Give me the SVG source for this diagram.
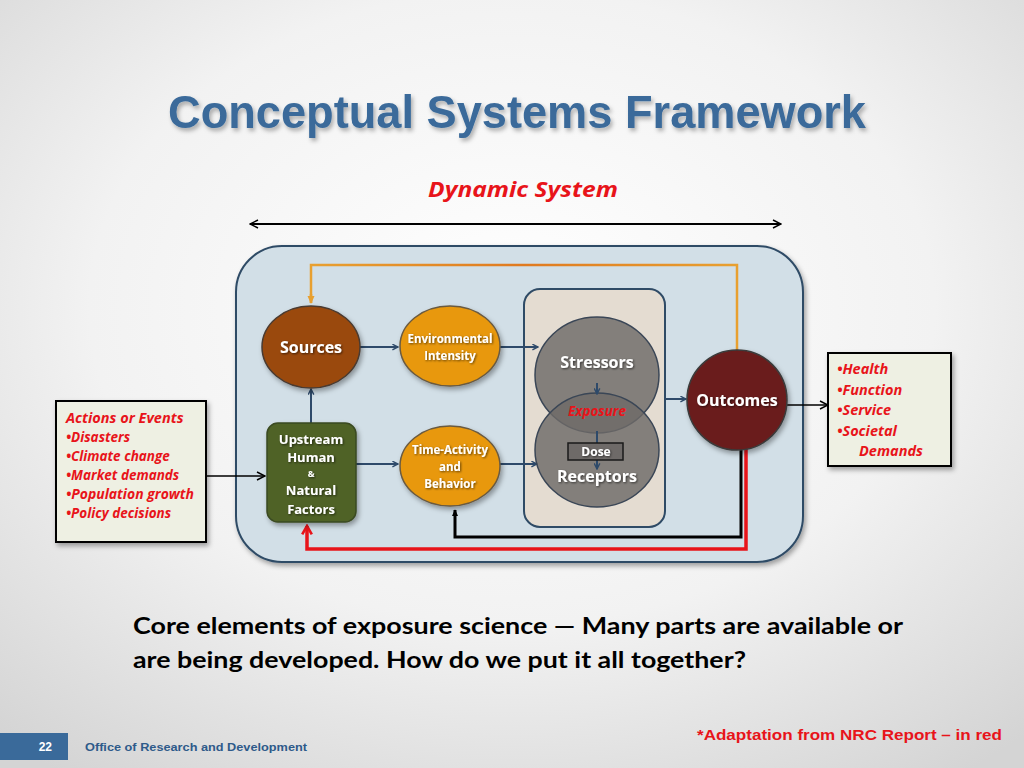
<svg xmlns="http://www.w3.org/2000/svg" width="1024" height="768" viewBox="0 0 1024 768">
<defs>
<radialGradient id="bg" cx="50%" cy="40%" r="75%">
<stop offset="0" stop-color="#FFFFFF"/>
<stop offset="0.55" stop-color="#F2F2F2"/>
<stop offset="1" stop-color="#D4D4D4"/>
</radialGradient>
<linearGradient id="orangeLine" x1="0" y1="0" x2="1" y2="0">
<stop offset="0" stop-color="#E8A030"/>
<stop offset="0.5" stop-color="#E07A20"/>
<stop offset="1" stop-color="#E8A030"/>
</linearGradient>
<filter id="sh" x="-20%" y="-20%" width="140%" height="140%">
<feDropShadow dx="2" dy="3" stdDeviation="2.5" flood-color="#000" flood-opacity="0.35"/>
</filter>
<filter id="tsh" x="-5%" y="-20%" width="110%" height="150%">
<feDropShadow dx="2" dy="3" stdDeviation="2" flood-color="#000" flood-opacity="0.3"/>
</filter>
<filter id="wsh" x="-10%" y="-30%" width="120%" height="160%">
<feDropShadow dx="1" dy="1" stdDeviation="0.8" flood-color="#000" flood-opacity="0.6"/>
</filter>
<marker id="ab" viewBox="0 0 10 10" refX="9" refY="5" markerWidth="7" markerHeight="7" orient="auto" markerUnits="userSpaceOnUse">
<path d="M1,1 L9,5 L1,9" fill="none" stroke="#2E4A6A" stroke-width="2"/>
</marker>
<marker id="ak" viewBox="0 0 10 10" refX="9" refY="5" markerWidth="10" markerHeight="10" orient="auto-start-reverse" markerUnits="userSpaceOnUse">
<path d="M1,1 L9,5 L1,9" fill="none" stroke="#000" stroke-width="1.5"/>
</marker>
<marker id="akf" viewBox="0 0 10 10" refX="8" refY="5" markerWidth="8" markerHeight="8" orient="auto" markerUnits="userSpaceOnUse">
<path d="M0,1 L9,5 L0,9 Z" fill="#000"/>
</marker>
<marker id="ar" viewBox="0 0 10 10" refX="8" refY="5" markerWidth="12" markerHeight="12" orient="auto" markerUnits="userSpaceOnUse">
<path d="M1,1 L8,5 L1,9" fill="none" stroke="#E8141A" stroke-width="2.2"/>
</marker>
<marker id="ao" viewBox="0 0 10 10" refX="8" refY="5" markerWidth="9" markerHeight="9" orient="auto" markerUnits="userSpaceOnUse">
<path d="M0,1 L9,5 L0,9 Z" fill="#E8A030"/>
</marker>
<style>
.nodeTxt{font-family:"Open Sans","DejaVu Sans",sans-serif;font-weight:bold;fill:#FFFFFF;text-anchor:middle;filter:url(#wsh);}
.red{font-family:"Open Sans","DejaVu Sans",sans-serif;font-weight:bold;font-style:italic;fill:#E8141A;}
.blue{stroke:#2E4A6A;stroke-width:2;fill:none;}
</style>
</defs>

<rect x="0" y="0" width="1024" height="768" fill="url(#bg)"/>

<text x="517" y="128" font-family="Liberation Sans, Arial, sans-serif" font-weight="bold" font-size="46" fill="#3A6A9A" text-anchor="middle" filter="url(#tsh)" textLength="698" lengthAdjust="spacingAndGlyphs">Conceptual Systems Framework</text>

<text x="523" y="197" class="red" font-size="21" text-anchor="middle" textLength="190" lengthAdjust="spacingAndGlyphs">Dynamic System</text>

<g id="dynamic-arrow">
<line x1="250" y1="224" x2="781" y2="224" stroke="#000" stroke-width="2" marker-start="url(#ak)" marker-end="url(#ak)"/>
</g>

<g id="system-box">
<rect x="236" y="246" width="567" height="316" rx="46" fill="#D2DFE7" stroke="#2F4B66" stroke-width="2" filter="url(#sh)"/>
</g>

<g id="exposure-box">
<rect x="524" y="289" width="141" height="238" rx="16" fill="#E4DCD1" stroke="#2F4B66" stroke-width="2"/>
</g>

<g id="connectors">
<path d="M737,352 V265 H311 V303" fill="none" stroke="url(#orangeLine)" stroke-width="2.5"/>
<path d="M311,294 V303" stroke="#E8A030" stroke-width="2.5" marker-end="url(#ao)"/>
<path d="M741,448 V537 H455 V510" fill="none" stroke="#000" stroke-width="3" marker-end="url(#akf)"/>
<path d="M746,446 V549 H307 V526" fill="none" stroke="#E8141A" stroke-width="3.5" marker-end="url(#ar)"/>
<line x1="360" y1="347" x2="398" y2="347" class="blue" marker-end="url(#ab)"/>
<line x1="500" y1="347" x2="538" y2="347" class="blue" marker-end="url(#ab)"/>
<line x1="311" y1="423" x2="311" y2="389" class="blue" marker-end="url(#ab)"/>
<line x1="356" y1="464" x2="398" y2="464" class="blue" marker-end="url(#ab)"/>
<line x1="500" y1="464" x2="537" y2="464" class="blue" marker-end="url(#ab)"/>
<line x1="666" y1="399" x2="686" y2="399" class="blue" marker-end="url(#ab)"/>
<line x1="787" y1="405" x2="828" y2="405" stroke="#000" stroke-width="1.5" marker-end="url(#ak)"/>
<line x1="203" y1="476" x2="265" y2="476" stroke="#000" stroke-width="1.5" marker-end="url(#ak)"/>
</g>

<g id="sources">
<ellipse cx="311" cy="347" rx="49" ry="41" fill="#9A4A0E" stroke="#4A3A30" stroke-width="1.5" filter="url(#sh)"/>
<text x="311" y="353" class="nodeTxt" font-size="16">Sources</text>
</g>

<g id="environmental-intensity">
<ellipse cx="450" cy="346" rx="50" ry="40" fill="#E8980C" stroke="#6A5A40" stroke-width="1.5" filter="url(#sh)"/>
<text x="450" y="343" class="nodeTxt" font-size="11.5">Environmental</text>
<text x="450" y="360" class="nodeTxt" font-size="11.5">Intensity</text>
</g>

<g id="upstream">
<rect x="267" y="423" width="89" height="99" rx="11" fill="#4F6228" stroke="#3A4A20" stroke-width="1.5" filter="url(#sh)"/>
<text x="311" y="444" class="nodeTxt" font-size="13">Upstream</text>
<text x="311" y="462" class="nodeTxt" font-size="13">Human</text>
<text x="311" y="477" class="nodeTxt" font-size="9">&amp;</text>
<text x="311" y="495" class="nodeTxt" font-size="13">Natural</text>
<text x="311" y="514" class="nodeTxt" font-size="13">Factors</text>
</g>

<g id="time-activity">
<ellipse cx="450" cy="466" rx="50" ry="40" fill="#E8980C" stroke="#6A5A40" stroke-width="1.5" filter="url(#sh)"/>
<text x="450" y="454" class="nodeTxt" font-size="11.5">Time-Activity</text>
<text x="450" y="471" class="nodeTxt" font-size="11.5">and</text>
<text x="450" y="488" class="nodeTxt" font-size="11.5">Behavior</text>
</g>

<g id="stressors">
<ellipse cx="597" cy="375" rx="62" ry="58" fill="#6E6A68" fill-opacity="0.82" stroke="#3A4656" stroke-width="1.5"/>
<text x="597" y="368" class="nodeTxt" font-size="16">Stressors</text>
</g>

<g id="receptors">
<ellipse cx="597" cy="450" rx="62" ry="57" fill="#6E6A68" fill-opacity="0.82" stroke="#3A4656" stroke-width="1.5"/>
<line x1="597" y1="383" x2="597" y2="394" class="blue" marker-end="url(#ab)"/>
<text x="597" y="416" class="red" font-size="13.5" text-anchor="middle">Exposure</text>
<line x1="597" y1="431" x2="597" y2="469" class="blue" marker-end="url(#ab)"/>
<rect x="568" y="443" width="55" height="17" fill="#6E6A68" stroke="#1A1A1A" stroke-width="1.5"/>
<text x="596" y="456" class="nodeTxt" font-size="12">Dose</text>
<text x="597" y="482" class="nodeTxt" font-size="16">Receptors</text>
</g>

<g id="outcomes">
<circle cx="737" cy="400" r="50" fill="#6A1E1E" stroke="#3A3A3A" stroke-width="1.5" filter="url(#sh)"/>
<text x="737" y="406" class="nodeTxt" font-size="16">Outcomes</text>
</g>

<g id="actions-box">
<rect x="56" y="401" width="150" height="141" fill="#EEF0E3" stroke="#000" stroke-width="2" filter="url(#sh)"/>
<text x="66" y="423" class="red" font-size="14.5">Actions or Events</text>
<text x="66" y="442" class="red" font-size="13.5">•Disasters</text>
<text x="66" y="461" class="red" font-size="13.5">•Climate change</text>
<text x="66" y="480" class="red" font-size="13.5">•Market demands</text>
<text x="66" y="499" class="red" font-size="13.5" textLength="128" lengthAdjust="spacingAndGlyphs">•Population growth</text>
<text x="66" y="518" class="red" font-size="13.5">•Policy decisions</text>
</g>

<g id="outcomes-box">
<rect x="828" y="353" width="123" height="113" fill="#EEF0E3" stroke="#000" stroke-width="2" filter="url(#sh)"/>
<text x="837" y="374" class="red" font-size="14.5">•Health</text>
<text x="837" y="395" class="red" font-size="14.5">•Function</text>
<text x="837" y="415" class="red" font-size="14.5">•Service</text>
<text x="837" y="436" class="red" font-size="14.5">•Societal</text>
<text x="859" y="456" class="red" font-size="14.5">Demands</text>
</g>

<text x="133" y="634" font-family="Lato, 'Open Sans', sans-serif" font-weight="bold" font-size="23" fill="#000" textLength="770" lengthAdjust="spacingAndGlyphs">Core elements of exposure science — Many parts are available or</text>
<text x="133" y="668" font-family="Lato, 'Open Sans', sans-serif" font-weight="bold" font-size="23" fill="#000" textLength="613" lengthAdjust="spacingAndGlyphs">are being developed. How do we put it all together?</text>

<g id="footer">
<rect x="0" y="733" width="68" height="27" fill="#3A6A9A"/>
<text x="52" y="751" font-family="Liberation Sans, Arial, sans-serif" font-weight="bold" font-size="12" fill="#FFFFFF" text-anchor="end">22</text>
<text x="85" y="751" font-family="Liberation Sans, Arial, sans-serif" font-weight="bold" font-size="11.5" fill="#2E5A8A" textLength="222" lengthAdjust="spacingAndGlyphs">Office of Research and Development</text>
<text x="1002" y="740" font-family="Liberation Sans, Arial, sans-serif" font-weight="bold" font-size="14" fill="#E8141A" text-anchor="end" textLength="305" lengthAdjust="spacingAndGlyphs">*Adaptation from NRC Report – in red</text>
</g>
</svg>
